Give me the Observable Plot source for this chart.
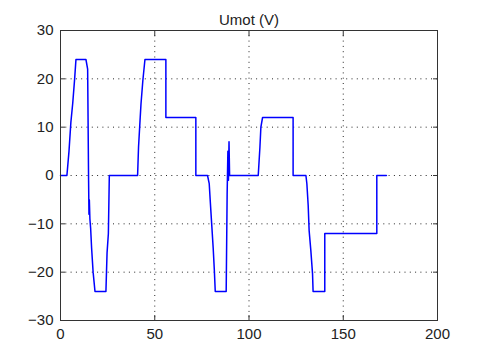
<!DOCTYPE html>
<html><head><meta charset="utf-8">
<script src="https://cdn.jsdelivr.net/npm/d3@7"></script>
<script src="https://cdn.jsdelivr.net/npm/@observablehq/plot@0.6"></script>
<style>body{margin:0;background:#fff}</style>
</head><body><div id="chart"></div>
<script>
const title = "Umot (V)";
const time = [0, 3.4, 4.5, 5.5, 6.5, 7.5, 8.2, 13.5, 14.4, 14.9, 15.1, 15.3, 15.6, 16.0, 16.5, 17.3, 18.3, 24.1, 24.7, 25.4, 25.9,
  40.9, 41.4, 42.2, 42.7, 43.7, 44.8, 55.9, 55.9, 71.8, 71.8, 78.0, 78.9, 79.4, 80.2, 81.0, 81.6, 82.1, 87.9,
  88.4, 88.8, 89.1, 89.4, 89.7, 104.9, 105.8, 106.3, 107.2, 123.4, 123.4, 130.2, 130.7, 131.4, 131.9, 132.8, 133.7, 134.0,
  140.2, 140.2, 167.8, 167.8, 172.9];
const umot = [0, 0, 5, 11, 15, 20, 24, 24, 22, -1, -8, -5, -9, -11, -15, -20, -24, -24, -16, -12, 0,
  0, 5.9, 11.4, 14.8, 19.7, 24, 24, 12, 12, 0, 0, -1.7, -5, -10, -15, -19.5, -24, -24,
  -4, 5, -1, 7, 0, 0, 5.9, 10, 12, 12, 0, 0, -1.7, -6.2, -11.4, -15.5, -20.3, -24,
  -24, -12, -12, 0, 0];
const xTicks = [0, 50, 100, 150, 200];
const yTicks = [-30, -20, -10, 0, 10, 20, 30];
const data = time.map((t, i) => ({t, u: umot[i]}));
const blank = () => "";
const chart = Plot.plot({
  width: 481, height: 351,
  marginLeft: 60, marginRight: 44, marginTop: 30, marginBottom: 31,
  style: {fontFamily: "'Liberation Sans', Arial, sans-serif", fontSize: "15px", color: "#222", background: "#fff"},
  x: {domain: [0, 200], ticks: xTicks},
  y: {domain: [-30, 30], ticks: yTicks},
  marks: [
    Plot.gridX(xTicks.slice(1, -1), {stroke: "#000", strokeOpacity: 0.85, strokeDasharray: "1,4.3"}),
    Plot.gridY(yTicks.slice(1, -1), {stroke: "#000", strokeOpacity: 0.85, strokeDasharray: "1,4.3"}),
    Plot.axisX({ticks: xTicks, tickSize: 0, tickPadding: 8, label: null}),
    Plot.axisY({ticks: yTicks, tickSize: 0, tickPadding: 7, label: null}),
    Plot.axisX({anchor: "bottom", ticks: xTicks, tickSize: 5, dy: -5, tickFormat: blank, label: null, stroke: "#333"}),
    Plot.axisX({anchor: "top", ticks: xTicks, tickSize: 5, dy: 5, tickFormat: blank, label: null, stroke: "#333"}),
    Plot.axisY({anchor: "left", ticks: yTicks, tickSize: 5, dx: 5, tickFormat: blank, label: null, stroke: "#333"}),
    Plot.axisY({anchor: "right", ticks: yTicks, tickSize: 5, dx: -5, tickFormat: blank, label: null, stroke: "#333"}),
    Plot.line(data, {x: "t", y: "u", stroke: "#0000ff", strokeWidth: 1.5}),
    Plot.frame({stroke: "#333"}),
    Plot.text([title], {frameAnchor: "top", dy: -16, fontSize: 15, fill: "#222"})
  ]
});
document.getElementById("chart").append(chart);
</script>
</body></html>
